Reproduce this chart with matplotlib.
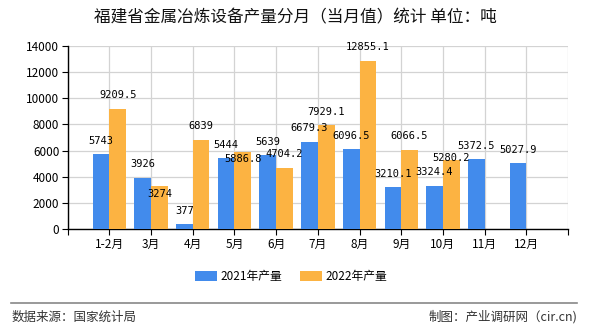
import numpy as np
import matplotlib.pyplot as plt

plt.rcParams['font.family'] = ['Noto Sans CJK SC', 'DejaVu Sans']

# monthly output, tonnes
months = ["1-2月", "3月", "4月", "5月", "6月", "7月", "8月", "9月", "10月", "11月", "12月"]
output_2021 = [5743, 3926, 377, 5444, 5639, 6679.3, 6096.5, 3210.1, 3324.4, 5372.5, 5027.9]
output_2022 = [9209.5, 3274, 6839, 5886.8, 4704.2, 7929.1, 12855.1, 6066.5, 5280.2, None, None]

BLUE = "#428BEC"
ORANGE = "#FCB342"
W = 0.4
LABEL_OFFSET = 6  # points above the bar top
# 2022 labels pushed down where they would collide with the 2021 label
shift_2022 = {"3月": -9.4, "5月": -8.6, "10月": -2.2}


def fmt(v):
    return str(int(v)) if float(v).is_integer() else f"{v:.1f}"


fig = plt.figure(figsize=(5.9, 3.3), dpi=100)
ax = fig.add_axes([0.1147, 0.3052, 0.8480, 0.5563])

x = np.arange(1, len(months) + 1)
ax.bar(x - W / 2, output_2021, W, color=BLUE, label="2021年产量", zorder=3)
idx22 = [i for i, v in enumerate(output_2022) if v is not None]
x22 = x[idx22]
v22 = [output_2022[i] for i in idx22]
ax.bar(x22 + W / 2, v22, W, color=ORANGE, label="2022年产量", zorder=3)

lab_kw = dict(textcoords="offset points", ha="center", va="bottom",
              fontsize=7.5, family="DejaVu Sans Mono", zorder=5)
for xi, v in zip(x, output_2021):
    ax.annotate(fmt(v), (xi - W / 2, v), xytext=(0, LABEL_OFFSET), **lab_kw)
for i, xi, v in zip(idx22, x22, v22):
    dy = shift_2022.get(months[i], LABEL_OFFSET)
    ax.annotate(fmt(v), (xi + W / 2, v), xytext=(0, dy), **lab_kw)

ax.set_xlim(0, 12)
ax.set_ylim(0, 14000)
ax.set_xticks(np.arange(0, 13))
ax.set_xticklabels([""] + months + [""], fontsize=8.5)
ax.set_yticks(np.arange(0, 14001, 2000))
ax.tick_params(axis="y", labelsize=8.5, length=4, width=0.8, pad=2)
ax.tick_params(axis="x", length=4, width=0.8, pad=2)
ax.grid(True, color="#d3d3d3", linewidth=0.9, zorder=0)
ax.spines["top"].set_visible(False)
ax.spines["right"].set_visible(False)
for s in ("left", "bottom"):
    ax.spines[s].set_linewidth(1.0)
    ax.spines[s].set_color("black")

fig.text(0.5, 0.945, "福建省金属冶炼设备产量分月（当月值）统计 单位：吨",
         ha="center", va="center", fontsize=12, color="#111111")

fig.legend(loc="center", bbox_to_anchor=(0.494, 0.163), ncol=2, frameon=False,
           fontsize=8.5, handlelength=1.8, handleheight=0.9, columnspacing=1.5,
           handletextpad=0.35)

fig.add_artist(plt.Line2D([0.018, 0.978], [0.082, 0.082], color="#888888", linewidth=1.2))
fig.text(0.02, 0.04, "数据来源：国家统计局", ha="left", va="center", fontsize=9, color="#333333")
fig.text(0.978, 0.04, "制图：产业调研网（cir.cn)", ha="right", va="center", fontsize=9, color="#333333")

fig.savefig("out.png", dpi=100)
